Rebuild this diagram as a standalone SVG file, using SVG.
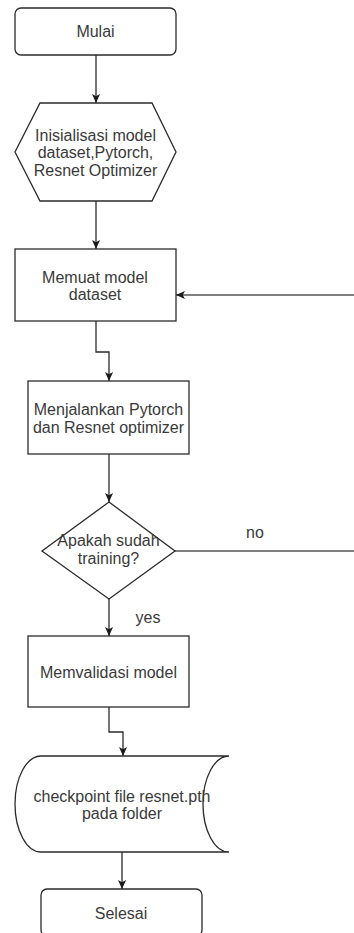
<svg xmlns="http://www.w3.org/2000/svg" width="354" height="933" viewBox="0 0 354 933">
  <style>
    .shape { fill: #ffffff; stroke: #2b2b2b; stroke-width: 1.3; }
    .lbl { font-family: "Liberation Sans", Arial, sans-serif; font-size: 16px; fill: #3a3a3a; text-anchor: middle; dominant-baseline: central; }
    .edge { fill: none; stroke: #2b2b2b; stroke-width: 1.3; }
    .loop { fill: none; stroke: #555555; stroke-width: 1.6; }
  </style>
  <defs>
    <marker id="arrow" viewBox="0 0 10 10" refX="10" refY="5" markerWidth="9" markerHeight="9" markerUnits="userSpaceOnUse" orient="auto">
      <path d="M0,0.5 L10,5 L0,9.5 L2.5,5 Z" fill="#1a1a1a"/>
    </marker>
  </defs>
  <rect width="354" height="933" fill="#ffffff"/>

  <!-- connectors -->
  <g id="connectors">
    <path class="edge" d="M96,55 V103" marker-end="url(#arrow)"/>
    <path class="edge" d="M96,201 V249" marker-end="url(#arrow)"/>
    <path class="loop" d="M354,295 H176" marker-end="url(#arrow)"/>
    <path class="edge" d="M96,321 V352 H109 V381" marker-end="url(#arrow)"/>
    <path class="edge" d="M109,454 V502" marker-end="url(#arrow)"/>
    <path class="loop" d="M175,551 H354"/>
    <path class="edge" d="M109,599 V636" marker-end="url(#arrow)"/>
    <path class="edge" d="M109,707 V732 H123 V756" marker-end="url(#arrow)"/>
    <path class="edge" d="M122,852 V889" marker-end="url(#arrow)"/>
    <text class="lbl" x="255" y="532">no</text>
    <text class="lbl" x="148" y="617">yes</text>
  </g>

  <g id="mulai">
    <rect class="shape" x="15" y="8" width="161" height="47" rx="6"/>
    <text class="lbl" x="95.5" y="31">Mulai</text>
  </g>

  <g id="inisialisasi">
    <polygon class="shape" points="40,103 152,103 176,152 152,201 40,201 15,152"/>
    <text class="lbl" x="95.5" y="135">Inisialisasi model</text>
    <text class="lbl" x="95.5" y="152.5">dataset,Pytorch,</text>
    <text class="lbl" x="95.5" y="170">Resnet Optimizer</text>
  </g>

  <g id="memuat">
    <rect class="shape" x="15" y="249" width="161" height="72"/>
    <text class="lbl" x="95" y="277">Memuat model</text>
    <text class="lbl" x="95" y="294.5">dataset</text>
  </g>

  <g id="menjalankan">
    <rect class="shape" x="28" y="381" width="161" height="73"/>
    <text class="lbl" x="108.5" y="409">Menjalankan Pytorch</text>
    <text class="lbl" x="108.5" y="427">dan Resnet optimizer</text>
  </g>

  <g id="keputusan">
    <polygon class="shape" points="109,502 175,551 109,599 42,551"/>
    <text class="lbl" x="108.5" y="540">Apakah sudah</text>
    <text class="lbl" x="108.5" y="558">training?</text>
  </g>

  <g id="memvalidasi">
    <rect class="shape" x="28" y="636" width="161" height="71"/>
    <text class="lbl" x="108.5" y="672">Memvalidasi model</text>
  </g>

  <g id="checkpoint">
    <path class="shape" d="M41,756 L229,756 A26,48 0 0 0 229,852 L41,852 A26,48 0 0 1 41,756 Z"/>
    <text class="lbl" x="122" y="796">checkpoint file resnet.pth</text>
    <text class="lbl" x="122" y="813.5">pada folder</text>
  </g>

  <g id="selesai">
    <rect class="shape" x="41" y="889" width="161" height="47" rx="6"/>
    <text class="lbl" x="121" y="913">Selesai</text>
  </g>
</svg>
